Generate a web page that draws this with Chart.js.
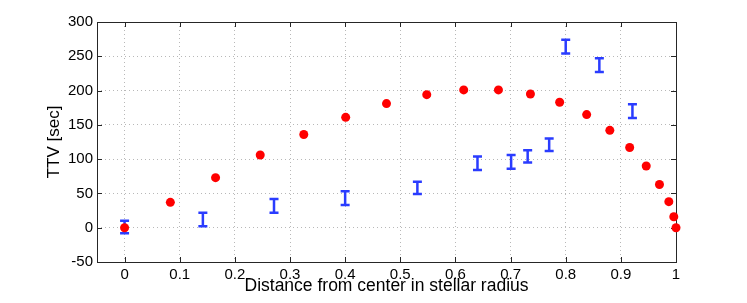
<!DOCTYPE html>
<html>
<head>
<meta charset="utf-8">
<script src="https://cdn.jsdelivr.net/npm/chart.js@4"></script>
<style>
  html, body { margin: 0; padding: 0; background: #fff; }
  #wrap { width: 747px; height: 303px; }
</style>
</head>
<body>
<div id="wrap"><canvas id="ttv"></canvas></div>
<script>
// model curve (red dots)
const modelX = [0, 0.083, 0.165, 0.246, 0.325, 0.401, 0.475, 0.548, 0.615, 0.678, 0.736, 0.789, 0.838, 0.880, 0.916, 0.946, 0.970, 0.987, 0.996, 1.0];
const modelY = [0, 37, 73, 106, 136, 161, 181, 194, 201, 201, 195, 183, 165, 142, 117, 90, 63, 38, 16, 0];

// measurements with error bars (blue)
const obsX = [0, 0.142, 0.271, 0.400, 0.531, 0.640, 0.701, 0.731, 0.770, 0.800, 0.861, 0.921];
const obsY = [1, 12, 32, 43, 58, 94, 96, 104, 121, 264, 237, 170];
const obsErr = [9, 10, 10, 10, 9, 10, 10, 9, 9, 10, 10, 10];

const xTicks = [0, 0.1, 0.2, 0.3, 0.4, 0.5, 0.6, 0.7, 0.8, 0.9, 1];
const yTicks = [-50, 0, 50, 100, 150, 200, 250, 300];

const FONT = '"Liberation Sans", Arial, Helvetica, sans-serif';

// matlab style box with inward ticks, drawn with fillRect, under the data
const boxTicks = {
  id: 'boxTicks',
  beforeDatasetsDraw(chart) {
    const ctx = chart.ctx;
    const a = chart.chartArea;
    const xs = chart.scales.x, ys = chart.scales.y;
    const L = Math.round(a.left), R = Math.round(a.right);
    const T = Math.round(a.top), B = Math.round(a.bottom);
    const len = 5;
    ctx.save();
    ctx.fillStyle = '#262626';
    xTicks.forEach(v => {
      const px = Math.round(xs.getPixelForValue(v));
      ctx.fillRect(px, B - len, 1, len);
      ctx.fillRect(px, T, 1, len);
    });
    yTicks.forEach(v => {
      const py = Math.round(ys.getPixelForValue(v));
      ctx.fillRect(L, py, len, 1);
      ctx.fillRect(R - len, py, len, 1);
    });
    ctx.fillRect(L, T, R - L + 1, 1);
    ctx.fillRect(L, B, R - L + 1, 1);
    ctx.fillRect(L, T, 1, B - T + 1);
    ctx.fillRect(R, T, 1, B - T + 1);
    ctx.restore();
  }
};

// error bars go under the red dots
const errorBars = {
  id: 'errorBars',
  beforeDatasetsDraw(chart) {
    const { ctx, scales: { x, y } } = chart;
    ctx.save();
    ctx.setLineDash([]);
    ctx.strokeStyle = '#2a3cff';
    ctx.lineWidth = 2.5;
    ctx.lineCap = 'butt';
    for (let i = 0; i < obsX.length; i++) {
      const px = x.getPixelForValue(obsX[i]);
      const top = y.getPixelForValue(obsY[i] + obsErr[i]);
      const bot = y.getPixelForValue(obsY[i] - obsErr[i]);
      ctx.beginPath();
      ctx.moveTo(px, top); ctx.lineTo(px, bot);
      ctx.moveTo(px - 4.5, top); ctx.lineTo(px + 4.5, top);
      ctx.moveTo(px - 4.5, bot); ctx.lineTo(px + 4.5, bot);
      ctx.stroke();
    }
    ctx.restore();
  }
};

new Chart(document.getElementById('ttv'), {
  type: 'scatter',
  data: {
    datasets: [{
      label: 'model',
      data: modelX.map((v, i) => ({ x: v, y: modelY[i] })),
      backgroundColor: '#ff0000',
      borderColor: '#ff0000',
      pointRadius: 4.5,
      pointHoverRadius: 4.5,
      borderWidth: 0,
      clip: false
    }]
  },
  options: {
    responsive: true,
    maintainAspectRatio: false,
    animation: false,
    layout: { padding: { top: 22, right: 71, left: 0, bottom: 0 } },
    plugins: {
      legend: { display: false },
      tooltip: { enabled: false }
    },
    scales: {
      x: {
        type: 'linear',
        min: -0.05,
        max: 1,
        afterBuildTicks: s => { s.ticks = xTicks.map(v => ({ value: v })); },
        afterFit: s => { s.height = 41; },
        grid: { color: '#b8b8b8', lineWidth: 1, drawTicks: false },
        border: { display: false, dash: [1, 3] },
        ticks: {
          padding: 4,
          color: '#000',
          font: { family: FONT, size: 15 },
          maxRotation: 0,
          callback: v => String(Math.round(v * 10) / 10)
        },
        title: {
          display: true,
          text: 'Distance from center in stellar radius',
          color: '#000',
          font: { family: FONT, size: 17.5 },
          padding: { top: 0, bottom: 6 }
        }
      },
      y: {
        min: -50,
        max: 300,
        afterBuildTicks: s => { s.ticks = yTicks.map(v => ({ value: v })); },
        afterFit: s => { s.width = 97; },
        grid: { color: '#b8b8b8', lineWidth: 1, drawTicks: false },
        border: { display: false, dash: [1, 3] },
        ticks: {
          padding: 4,
          color: '#000',
          font: { family: FONT, size: 15 }
        },
        title: {
          display: true,
          text: 'TTV [sec]',
          color: '#000',
          font: { family: FONT, size: 17 },
          padding: { top: 44, bottom: 0 }
        }
      }
    }
  },
  plugins: [boxTicks, errorBars]
});
</script>
</body>
</html>
